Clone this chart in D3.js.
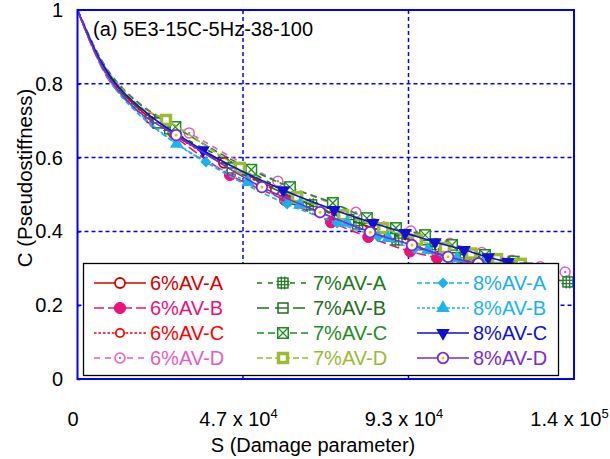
<!DOCTYPE html>
<html>
<head>
<meta charset="utf-8">
<script src="https://cdn.jsdelivr.net/npm/d3@7"></script>
<style>
  body { margin: 0; background: #fff; }
  svg { display: block; font-family: "Liberation Sans", Arial, Helvetica, sans-serif; }
</style>
</head>
<body>
<svg id="chart" width="610" height="459"></svg>
<script>
// ---- data: [S (damage parameter), C (pseudostiffness)] ----
const av6A = [[0,1],[1500,.964],[3500,.920],[6000,.869],[9000,.820],[13000,.772],[17000,.735],[20500,.707],[41300,.586],[60000,.497],[78000,.427],[90500,.388],[101000,.358],[110000,.335],[118000,.316],[125000,.300]];
const av6B = [[0,1],[1500,.962],[3500,.915],[6000,.860],[9000,.808],[13000,.762],[17000,.725],[21900,.694],[43000,.553],[58500,.485],[71500,.425],[82000,.385],[93800,.346],[101400,.328],[109000,.309],[116000,.292],[122000,.280]];
const av6C = [[0,1],[1500,.964],[3500,.918],[6000,.867],[9000,.818],[13000,.770],[17000,.733],[27000,.664],[55700,.512],[73000,.442],[86000,.398],[97000,.365],[106000,.341],[114000,.321],[121000,.306]];
const av6D = [[0,1],[1500,.969],[3500,.926],[6000,.878],[9000,.831],[13000,.786],[17000,.751],[31500,.667],[56500,.536],[78500,.452],[94000,.401],[105000,.368],[114000,.343],[122500,.322],[130500,.304],[137500,.290]];
const av7A = [[0,1],[1500,.966],[3500,.922],[6000,.872],[9000,.824],[13000,.777],[17000,.741],[26000,.678],[47900,.566],[66000,.472],[79000,.420],[90100,.377],[99500,.355],[107500,.333],[115000,.313],[122000,.297],[128500,.282],[134000,.271],[138300,.263]];
const av7B = [[0,1],[1500,.965],[3500,.920],[6000,.869],[9000,.820],[13000,.772],[17000,.736],[22700,.694],[43600,.572],[62000,.487],[76500,.432],[88000,.394],[98000,.364],[106500,.342],[114500,.322],[121500,.306]];
const av7C = [[0,1],[1500,.968],[3500,.925],[6000,.877],[9000,.830],[13000,.784],[17000,.749],[27600,.683],[49000,.567],[59900,.520],[72000,.477],[81600,.436],[89800,.409],[98000,.390],[105600,.363],[114900,.336],[123000,.318]];
const av7D = [[0,1],[1500,.967],[3500,.924],[6000,.875],[9000,.828],[13000,.782],[17000,.743],[24950,.702],[45800,.572],[61900,.493],[74900,.444],[86200,.409],[95700,.377],[103600,.355],[111000,.340],[118300,.325],[125000,.312]];
const av8A = [[0,1],[1500,.963],[3500,.916],[6000,.862],[9000,.810],[13000,.759],[17000,.720],[36200,.588],[59100,.474],[73200,.423],[84800,.385],[95000,.353],[104000,.330],[112000,.310],[119000,.295]];
const av8B = [[0,1],[1500,.964],[3500,.917],[6000,.864],[9000,.812],[13000,.762],[17000,.724],[28000,.637],[48100,.534],[62700,.472],[76000,.423],[87600,.382],[98800,.350],[107000,.327],[114500,.309],[121500,.294]];
const av8C = [[0,1],[1500,.966],[3500,.922],[6000,.872],[9000,.824],[13000,.777],[17000,.741],[35400,.620],[58000,.512],[72400,.458],[83300,.423],[92400,.396],[100800,.371],[109000,.350],[115800,.330],[121400,.317],[126500,.305]];
const av8D = [[0,1],[1500,.964],[3500,.916],[6000,.864],[9000,.814],[13000,.765],[17000,.727],[27800,.661],[52000,.520],[68400,.452],[82500,.398],[94300,.363],[104500,.331],[113000,.313],[120500,.298]];

const seriesNames = ["6%AV-A","6%AV-B","6%AV-C","6%AV-D","7%AV-A","7%AV-B","7%AV-C","7%AV-D","8%AV-A","8%AV-B","8%AV-C","8%AV-D"];
const seriesData  = [av6A, av6B, av6C, av6D, av7A, av7B, av7C, av7D, av8A, av8B, av8C, av8D];

const xTicks = [0, 140000 / 3, 280000 / 3, 140000];
const xTickLabels = [["0", ""], ["4.7 x 10", "4"], ["9.3 x 10", "4"], ["1.4 x 10", "5"]];
const yTicks = [0, 0.2, 0.4, 0.6, 0.8, 1];
const yTickLabels = ["0", "0.2", "0.4", "0.6", "0.8", "1"];

const chartTitle = "(a) 5E3-15C-5Hz-38-100";
const xTitle = "S (Damage parameter)";
const yTitle = "C (Pseudostiffness)";

// ---- styling per series ----
const styles = {
  "6%AV-A": { color: "#d40000", dash: null,      marker: "circleOpen" },
  "6%AV-B": { color: "#ee1177", dash: "10,4",    marker: "circleFill" },
  "6%AV-C": { color: "#ff0000", dash: "2.5,2",   marker: "circleSmall" },
  "6%AV-D": { color: "#e060c0", dash: "6,5",     marker: "circleDot" },
  "7%AV-A": { color: "#1a7a1a", dash: "5,6",     marker: "squareHash" },
  "7%AV-B": { color: "#1f6e1f", dash: "12,6",    marker: "squareBar" },
  "7%AV-C": { color: "#1e8c1e", dash: "7,4",     marker: "squareX" },
  "7%AV-D": { color: "#9abb33", dash: "6,3",     marker: "squareThick" },
  "8%AV-A": { color: "#1ab0ec", dash: "5,3",     marker: "diamond" },
  "8%AV-B": { color: "#1ab4f0", dash: "3,2",     marker: "triUp" },
  "8%AV-C": { color: "#1010d0", dash: null,      marker: "triDown" },
  "8%AV-D": { color: "#7a2bd8", dash: null,      marker: "circleDotY" }
};
const markerStartS = 20000;

// ---- layout ----
const svg = d3.select("#chart");
const plot = { left: 77.5, right: 574, top: 10, bottom: 379 };
const x = d3.scaleLinear().domain([0, 140000]).range([plot.left, plot.right]);
const y = d3.scaleLinear().domain([0, 1]).range([plot.bottom, plot.top]);
const gridBlue = "#0000ff";

svg.append("defs").append("clipPath").attr("id", "plotClip")
  .append("rect")
  .attr("x", plot.left).attr("y", plot.top - 2)
  .attr("width", plot.right - plot.left).attr("height", plot.bottom - plot.top + 2);

// grid
const grid = svg.append("g");
grid.selectAll("line.vg").data(xTicks.slice(1, -1)).join("line")
  .attr("x1", d => x(d)).attr("x2", d => x(d))
  .attr("y1", plot.top).attr("y2", plot.bottom)
  .attr("stroke", gridBlue).attr("stroke-width", 1.5).attr("stroke-dasharray", "4,3");
grid.selectAll("line.hg").data(yTicks.slice(1, -1)).join("line")
  .attr("x1", plot.left).attr("x2", plot.right)
  .attr("y1", d => y(d)).attr("y2", d => y(d))
  .attr("stroke", gridBlue).attr("stroke-width", 1.5).attr("stroke-dasharray", "4,3");

// marker shapes
function drawMarker(g, type, color) {
  const sq = (s) => g.append("rect").attr("x", -s / 2).attr("y", -s / 2).attr("width", s).attr("height", s);
  switch (type) {
    case "circleOpen":
      g.append("circle").attr("r", 5).attr("fill", "#fff").attr("stroke", color).attr("stroke-width", 1.8); break;
    case "circleFill":
      g.append("circle").attr("r", 5.6).attr("fill", color).attr("stroke", color).attr("stroke-width", 1); break;
    case "circleSmall":
      g.append("circle").attr("r", 4.2).attr("fill", "#fff").attr("stroke", color).attr("stroke-width", 1.8); break;
    case "circleDot":
      g.append("circle").attr("r", 5).attr("fill", "#fff").attr("stroke", color).attr("stroke-width", 1.5);
      g.append("circle").attr("r", 1.2).attr("fill", color); break;
    case "squareHash":
      sq(10).attr("fill", "#fff").attr("stroke", color).attr("stroke-width", 1.4);
      [-1.7, 1.7].forEach(o => {
        g.append("line").attr("x1", o).attr("x2", o).attr("y1", -6.5).attr("y2", 6.5).attr("stroke", color).attr("stroke-width", 1.2);
        g.append("line").attr("y1", o).attr("y2", o).attr("x1", -6.5).attr("x2", 6.5).attr("stroke", color).attr("stroke-width", 1.2);
      });
      break;
    case "squareBar":
      sq(10).attr("fill", "#fff").attr("stroke", color).attr("stroke-width", 1.5);
      g.append("line").attr("x1", -5).attr("x2", 5).attr("y1", 0).attr("y2", 0).attr("stroke", color).attr("stroke-width", 1.4); break;
    case "squareX":
      sq(10.5).attr("fill", "#fff").attr("stroke", color).attr("stroke-width", 1.5);
      g.append("path").attr("d", "M-5.25,-5.25L5.25,5.25M-5.25,5.25L5.25,-5.25").attr("stroke", color).attr("stroke-width", 1.3); break;
    case "squareThick":
      sq(12.5).attr("fill", color);
      sq(5.5).attr("fill", "#fff"); break;
    case "diamond":
      g.append("path").attr("d", d3.symbol(d3.symbolSquare, 60)()).attr("transform", "rotate(45)").attr("fill", color); break;
    case "triUp":
      g.append("path").attr("d", d3.symbol(d3.symbolTriangle, 80)()).attr("fill", color); break;
    case "triDown":
      g.append("path").attr("d", d3.symbol(d3.symbolTriangle, 80)()).attr("transform", "rotate(180)").attr("fill", color); break;
    case "circleDotY":
      g.append("circle").attr("r", 5.3).attr("fill", "#fff").attr("stroke", color).attr("stroke-width", 1.8);
      g.append("circle").attr("r", 1.5).attr("fill", "#f2c200"); break;
  }
}

// series
const line = d3.line().x(d => x(d[0])).y(d => y(d[1])).curve(d3.curveMonotoneX);
const seriesLayer = svg.append("g").attr("clip-path", "url(#plotClip)");
seriesNames.forEach((name, i) => {
  const st = styles[name];
  const g = seriesLayer.append("g");
  g.append("path").datum(seriesData[i]).attr("d", line)
    .attr("fill", "none").attr("stroke", st.color).attr("stroke-width", 1.6)
    .attr("stroke-dasharray", st.dash);
  seriesData[i].filter(d => d[0] >= markerStartS).forEach(d => {
    const m = g.append("g").attr("transform", `translate(${x(d[0])},${y(d[1])})`);
    drawMarker(m, st.marker, st.color);
  });
});

// frame
svg.append("rect")
  .attr("x", plot.left).attr("y", plot.top)
  .attr("width", plot.right - plot.left).attr("height", plot.bottom - plot.top)
  .attr("fill", "none").attr("stroke", gridBlue).attr("stroke-width", 2);

// axes
const yAxis = svg.append("g").attr("transform", `translate(${plot.left},0)`)
  .call(d3.axisLeft(y).tickValues(yTicks).tickFormat((d, i) => yTickLabels[i]).tickSize(-3).tickPadding(14.5));
yAxis.select(".domain").remove();
yAxis.selectAll(".tick line").attr("stroke", gridBlue).attr("stroke-width", 1.5);
yAxis.selectAll(".tick text").attr("font-size", 20).attr("fill", "#000")
  .attr("font-family", "Liberation Sans, Arial, sans-serif");

const xAxis = svg.append("g").attr("transform", `translate(0,${plot.bottom})`)
  .call(d3.axisBottom(x).tickValues(xTicks).tickSize(0).tickPadding(33));
xAxis.select(".domain").remove();
xAxis.selectAll(".tick text").each(function (d, i) {
  const t = d3.select(this).text(null)
    .attr("font-size", 20).attr("fill", "#000").attr("dx", -5)
    .attr("font-family", "Liberation Sans, Arial, sans-serif");
  t.append("tspan").text(xTickLabels[i][0]);
  if (xTickLabels[i][1]) {
    t.append("tspan").attr("font-size", 13).attr("dy", "-0.6em").text(xTickLabels[i][1]);
  }
});

// titles
svg.append("text").attr("x", 93).attr("y", 35.5).attr("font-size", 20).attr("fill", "#000").text(chartTitle);
svg.append("text").attr("x", 313).attr("y", 452).attr("text-anchor", "middle")
  .attr("font-size", 20).attr("fill", "#000").text(xTitle);
svg.append("text").attr("transform", "translate(32,178) rotate(-90)").attr("text-anchor", "middle")
  .attr("font-size", 20.5).attr("fill", "#000").text(yTitle);

// legend
const legend = svg.append("g");
legend.append("rect").attr("x", 83.5).attr("y", 263.5).attr("width", 475).attr("height", 112)
  .attr("fill", "#fff").attr("stroke", "#000").attr("stroke-width", 1.3);
const legCols = [120, 283, 443];
const legRows = [283, 308, 333, 358];
seriesNames.forEach((name, i) => {
  const st = styles[name];
  const cx = legCols[Math.floor(i / 4)];
  const cy = legRows[i % 4];
  legend.append("line").attr("x1", cx - 26).attr("x2", cx + 26).attr("y1", cy).attr("y2", cy)
    .attr("stroke", st.color).attr("stroke-width", 1.5).attr("stroke-dasharray", st.dash);
  drawMarker(legend.append("g").attr("transform", `translate(${cx},${cy})`), st.marker, st.color);
  legend.append("text").attr("x", cx + 30).attr("y", cy + 7.3).attr("font-size", 20)
    .attr("fill", st.color).text(name);
});
</script>
</body>
</html>
